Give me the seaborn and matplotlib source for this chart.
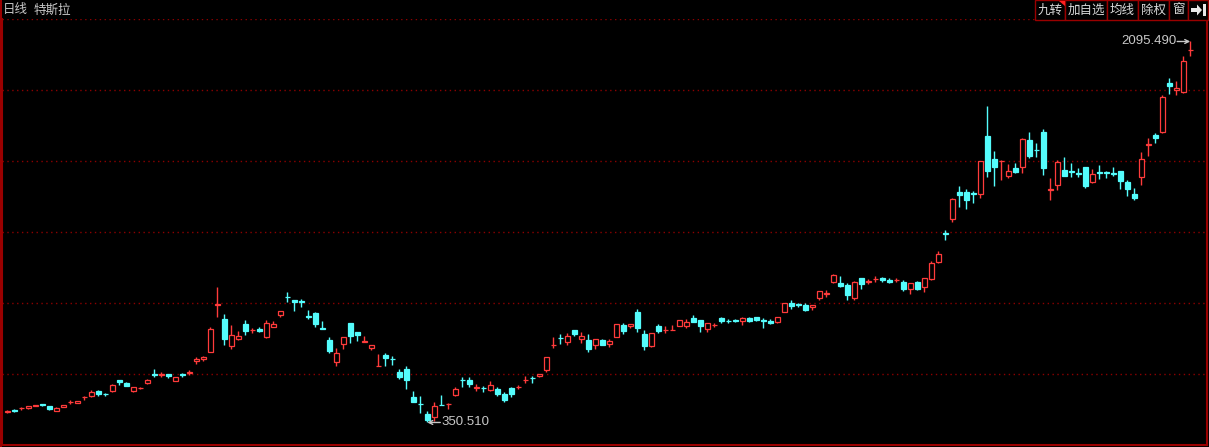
import numpy as np
import pandas as pd
import matplotlib
matplotlib.use("Agg")
import matplotlib.pyplot as plt
import seaborn as sns
from matplotlib.patches import Rectangle, Polygon

# daily OHLC (one entry per candle, left to right)
opens = [399, 407, 416, 417, 428, 434, 426, 405, 423, 443,
         441, 465, 473, 495, 481, 496, 545, 531, 496, 508,
         533, 571, 570, 573, 542, 571, 579, 631, 641, 675,
         888, 825, 702, 734, 802, 772, 779, 744, 789, 844,
         926, 911, 905, 836, 850, 782, 728, 629, 710, 806,
         765, 721, 693, 608, 661, 641, 582, 596, 469, 437,
         389, 377, 430, 434, 476, 546, 545, 508, 510, 501,
         504, 479, 508, 513, 544, 554, 565, 591, 704, 739,
         721, 773, 734, 728, 707, 728, 712, 741, 797, 794,
         857, 756, 699, 792, 773, 775, 792, 794, 831, 821,
         779, 798, 831, 816, 819, 817, 828, 832, 819, 817,
         811, 858, 898, 891, 889, 881, 922, 941, 994, 991,
         980, 922, 1012, 996, 1007, 1014, 1005, 1002, 994, 960,
         994, 973, 1008, 1086, 1218, 1281, 1406, 1406, 1401, 1399,
         1663, 1557, 1547, 1480, 1515, 1522, 1644, 1600, 1681, 1417,
         1440, 1507, 1502, 1493, 1521, 1454, 1497, 1497, 1493, 1502,
         1452, 1397, 1476, 1623, 1667, 1682, 1907, 1872, 1866, 2055]
highs = [408, 412, 423, 427, 431, 434, 427, 423, 432, 453,
         450, 473, 499, 499, 486, 527, 546, 536, 513, 515,
         551, 595, 582, 574, 560, 579, 591, 649, 657, 786,
         971, 847, 797, 768, 820, 783, 789, 820, 814, 860,
         948, 912, 915, 864, 855, 815, 742, 690, 742, 806,
         765, 747, 704, 664, 669, 654, 594, 608, 495, 470,
         402, 446, 475, 441, 512, 557, 557, 527, 518, 541,
         515, 492, 515, 522, 563, 563, 571, 649, 742, 756,
         760, 773, 765, 756, 731, 733, 733, 801, 805, 802,
         870, 774, 760, 802, 792, 797, 820, 823, 843, 821,
         806, 808, 835, 826, 825, 835, 835, 832, 831, 825,
         832, 898, 911, 899, 896, 889, 953, 957, 1031, 1021,
         988, 999, 1012, 1008, 1021, 1018, 1012, 1012, 1003, 988,
         999, 1011, 1089, 1136, 1232, 1380, 1434, 1420, 1411, 1548,
         1800, 1594, 1553, 1534, 1538, 1652, 1681, 1631, 1695, 1470,
         1553, 1566, 1539, 1516, 1521, 1512, 1530, 1503, 1521, 1502,
         1461, 1425, 1589, 1655, 1675, 1850, 1927, 1915, 2031, 2095.49]
lows = [395, 400, 409, 412, 427, 428, 409, 404, 422, 435,
        440, 455, 469, 472, 473, 492, 524, 518, 492, 504,
        528, 559, 557, 556, 540, 560, 570, 620, 634, 675,
        835, 707, 689, 728, 753, 760, 765, 739, 789, 835,
        904, 863, 881, 825, 789, 780, 670, 609, 687, 716,
        725, 721, 683, 608, 609, 614, 548, 502, 444, 395,
        350.51, 359, 429, 411, 472, 512, 515, 496, 492, 496,
        473, 444, 469, 502, 533, 533, 560, 583, 693, 711,
        705, 748, 716, 675, 689, 705, 698, 740, 757, 785,
        765, 683, 696, 759, 762, 775, 792, 783, 811, 765,
        765, 788, 806, 806, 811, 796, 811, 815, 785, 803,
        808, 858, 870, 881, 861, 866, 911, 927, 988, 973,
        911, 911, 962, 985, 995, 994, 989, 994, 953, 940,
        957, 948, 1003, 1079, 1186, 1270, 1339, 1330, 1357, 1380,
        1476, 1434, 1461, 1470, 1495, 1495, 1563, 1568, 1484, 1370,
        1415, 1481, 1473, 1473, 1424, 1449, 1467, 1472, 1479, 1420,
        1389, 1370, 1438, 1573, 1632, 1677, 1853, 1849, 1861, 2031]
closes = [401, 405, 418, 426, 430, 431, 414, 418, 431, 445,
          449, 467, 490, 483, 479, 522, 537, 519, 512, 510,
          545, 569, 572, 565, 559, 569, 581, 643, 650, 777,
          892, 733, 751, 747, 770, 774, 770, 806, 802, 860,
          924, 904, 902, 834, 802, 780, 678, 667, 742, 747,
          753, 722, 704, 609, 647, 639, 560, 547, 444, 434,
          363, 426, 429, 436, 504, 544, 527, 511, 507, 521,
          481, 454, 481, 515, 546, 552, 571, 649, 706, 736,
          747, 757, 747, 689, 731, 707, 724, 800, 770, 802,
          785, 701, 760, 768, 774, 776, 820, 811, 811, 793,
          806, 799, 814, 814, 817, 829, 817, 820, 817, 806,
          832, 898, 884, 889, 866, 889, 953, 943, 1024, 976,
          934, 994, 985, 997, 1008, 1003, 994, 1004, 962, 988,
          962, 1011, 1081, 1122, 1215, 1374, 1392, 1370, 1398, 1548,
          1502, 1522, 1549, 1501, 1499, 1647, 1573, 1597, 1518, 1419,
          1544, 1481, 1499, 1490, 1434, 1487, 1494, 1494, 1490, 1458,
          1421, 1380, 1556, 1625, 1655, 1841, 1893, 1881, 2005, 2057]

header_left = ["日线", "特斯拉"]
buttons = ["九转", "加自选", "均线", "除权", "窗"]
high_label = "2095.490"
low_label = "350.510"

UP = "#ff3b3b"
DOWN = "#54fcfc"
FRAME = "#9a0000"
GRID = "#8c0000"
TEXT = "#c8c8c8"

W, H = 1209, 447


def px(x, y):
    # pixel position -> figure fraction
    return x / W, 1 - y / H


def marker(ax, i, price, label, side):
    # arrow pointing at the extreme candle, value written beside it
    sgn = -1 if side == "left" else 1
    ax.annotate("", xy=(i, price), xytext=(sgn * 13, 0), textcoords="offset pixels",
                arrowprops=dict(arrowstyle="->", color=TEXT, lw=1,
                                shrinkA=0, shrinkB=0, mutation_scale=7))
    ax.annotate(label, xy=(i, price), xytext=(sgn * 14, 0), textcoords="offset pixels",
                ha="right" if side == "left" else "left", va="center",
                color=TEXT, fontsize=9.5, family=["Liberation Sans", "DejaVu Sans"])


def main():
    df = pd.DataFrame({"open": opens, "high": highs, "low": lows, "close": closes})
    df["i"] = np.arange(len(df))
    df["up"] = df["close"] >= df["open"]

    sns.set_theme(style="dark", rc={
        "axes.facecolor": "black",
        "figure.facecolor": "black",
        "axes.edgecolor": FRAME,
    })
    plt.rcParams["font.family"] = ["Noto Sans CJK SC", "DejaVu Sans"]

    fig = plt.figure(figsize=(W / 100, H / 100), dpi=100)
    ax = fig.add_axes([2 / W, 2 / H, 1205 / W, 426 / H])

    up = df[df["up"]]
    dn = df[~df["up"]]

    ax.vlines(up["i"], up["low"], up["high"], color=UP, lw=1, zorder=2)
    ax.vlines(dn["i"], dn["low"], dn["high"], color=DOWN, lw=1, zorder=2)
    ax.bar(up["i"], up["close"] - up["open"], bottom=up["open"], width=0.72,
           facecolor="black", edgecolor=UP, linewidth=0.9, zorder=3)
    ax.bar(dn["i"], dn["open"] - dn["close"], bottom=dn["close"], width=0.72,
           facecolor=DOWN, edgecolor=DOWN, linewidth=0.9, zorder=3)

    # y range: 6 equal bands like the app
    ylo, yhi = 247.3, 2198.5
    ax.set_ylim(ylo, yhi)
    ax.set_xlim(-0.76, 171.4)
    ax.set_yticks(np.linspace(ylo, yhi, 7))
    ax.set_xticks([])
    ax.tick_params(left=False, labelleft=False)
    ax.grid(axis="y", color=GRID, linestyle=(0, (1, 2.5)), lw=1)
    ax.grid(axis="x", visible=False)
    for s in ["left", "bottom", "right"]:
        ax.spines[s].set_color(FRAME)
        ax.spines[s].set_linewidth(1.5)
    ax.spines["top"].set_visible(False)

    hi_i = int(df["high"].idxmax())
    lo_i = int(df["low"].idxmin())
    marker(ax, hi_i, df["high"].max(), high_label, "left")
    marker(ax, lo_i, df["low"].min(), low_label, "right")

    # header
    fig.text(*px(3, 10), header_left[0], color=TEXT, fontsize=9, va="center")
    fig.text(*px(34, 10), header_left[1], color=TEXT, fontsize=9, va="center")
    fig.add_artist(Rectangle(px(0, 447), 2 / W, 1, color=FRAME, lw=0))

    edges = [1035, 1065, 1107, 1138, 1169, 1188, 1208]
    for k in range(len(edges) - 1):
        x0, x1 = edges[k], edges[k + 1]
        fig.add_artist(Rectangle(px(x0, 20), (x1 - x0) / W, 20 / H,
                                 facecolor="black", edgecolor=FRAME, lw=1))
        if k < len(buttons):
            fig.text(*px((x0 + x1) / 2, 10), buttons[k], color="#d8d8d8",
                     fontsize=9, ha="center", va="center")
    fig.add_artist(Polygon([px(1059, 0.5), px(1064.5, 0.5), px(1064.5, 6)],
                           closed=True, color="#ff2020", lw=0))
    arrow = [(1191, 8), (1197, 8), (1197, 4.5), (1202, 10), (1197, 15.5),
             (1197, 12), (1191, 12)]
    fig.add_artist(Polygon([px(x, y) for x, y in arrow], closed=True,
                           color="#e8e8e8", lw=0))
    fig.add_artist(Rectangle(px(1203, 16), 2.5 / W, 12 / H, color="#e8e8e8", lw=0))

    fig.savefig("out.png", dpi=100, facecolor="black")


if __name__ == "__main__":
    main()
